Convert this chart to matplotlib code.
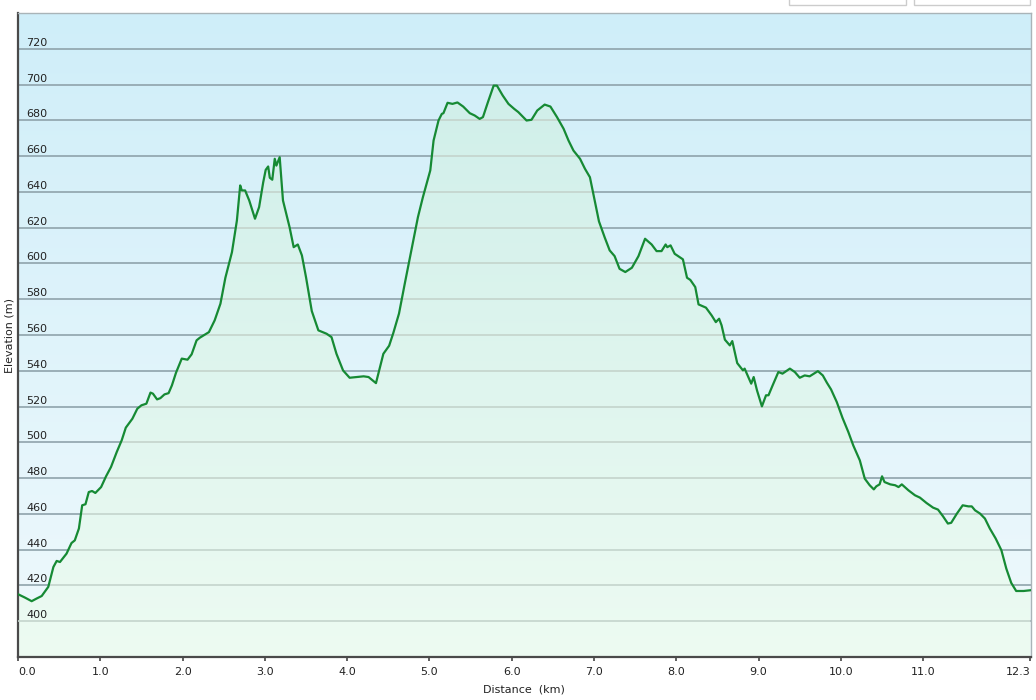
import numpy as np
import matplotlib
matplotlib.use("Agg")
import matplotlib.pyplot as plt
from matplotlib.colors import LinearSegmentedColormap
from matplotlib.patches import Rectangle

# ---- data ----
distance_km = [
    0.00, 0.085, 0.166, 0.227, 0.288, 0.368, 0.43, 0.47, 0.51, 0.59, 0.65, 0.69,
    0.74, 0.78, 0.82, 0.86, 0.90, 0.94, 1.01, 1.07, 1.13, 1.20, 1.26, 1.31, 1.39,
    1.45, 1.50, 1.56, 1.61, 1.64, 1.69, 1.73, 1.78, 1.83, 1.87, 1.92, 1.99, 2.06,
    2.11, 2.17, 2.21, 2.32, 2.39, 2.46, 2.52, 2.60, 2.66, 2.70, 2.72, 2.76, 2.81,
    2.88, 2.93, 2.98, 3.01, 3.04, 3.06, 3.09, 3.12, 3.14, 3.18, 3.22, 3.30, 3.35,
    3.40, 3.45, 3.50, 3.57, 3.65, 3.75, 3.81, 3.87, 3.95, 4.03, 4.12, 4.20, 4.26,
    4.35, 4.44, 4.51, 4.56, 4.63, 4.70, 4.78, 4.86, 4.92, 5.01, 5.05, 5.11, 5.15,
    5.17, 5.22, 5.28, 5.34, 5.41, 5.49, 5.55, 5.61, 5.65, 5.71, 5.78, 5.82, 5.89,
    5.96, 6.03, 6.08, 6.12, 6.18, 6.24, 6.31, 6.40, 6.47, 6.55, 6.63, 6.69, 6.75,
    6.83, 6.89, 6.95, 7.00, 7.06, 7.13, 7.19, 7.25, 7.31, 7.38, 7.46, 7.54, 7.62,
    7.70, 7.76, 7.82, 7.87, 7.89, 7.93, 7.98, 8.08, 8.13, 8.17, 8.23, 8.27, 8.36,
    8.43, 8.48, 8.52, 8.55, 8.59, 8.65, 8.68, 8.74, 8.81, 8.83, 8.89, 8.91, 8.94,
    8.98, 9.04, 9.09, 9.12, 9.17, 9.24, 9.29, 9.38, 9.44, 9.50, 9.56, 9.62, 9.72,
    9.78, 9.83, 9.88, 9.95, 10.02, 10.09, 10.15, 10.23, 10.29, 10.35, 10.40, 10.43,
    10.47, 10.50, 10.53, 10.60, 10.66, 10.70, 10.74, 10.82, 10.90, 10.96, 11.04,
    11.12, 11.18, 11.24, 11.30, 11.34, 11.41, 11.48, 11.55, 11.59, 11.63, 11.69,
    11.75, 11.81, 11.88, 11.95, 12.01, 12.07, 12.13, 12.22, 12.30,
]
elevation_m = [
    415.1, 413.2, 411.2, 412.7, 414.1, 419.2, 430.3, 433.7, 433.1, 437.8, 443.7, 445.2,
    451.8, 464.8, 465.4, 472.2, 472.8, 471.7, 475.0, 481.0, 486.2, 494.6, 501.1, 508.2, 513.2,
    518.8, 520.7, 521.6, 527.8, 527.2, 524.0, 524.7, 526.8, 527.5, 531.8, 538.9, 546.8, 546.2,
    549.2, 557.0, 558.5, 561.6, 568.2, 577.5, 592.0, 606.3, 624.0, 643.6, 640.8, 640.8, 635.2,
    625.0, 631.5, 645.4, 652.3, 654.2, 647.9, 646.8, 658.5, 654.7, 659.4, 635.2, 620.3, 609.1,
    610.6, 604.5, 592.3, 573.4, 562.6, 560.7, 558.8, 549.5, 540.2, 536.1, 536.5, 536.9, 536.5,
    533.1, 549.5, 554.0, 561.0, 572.0, 588.7, 607.3, 625.9, 637.0, 652.0, 668.7, 679.9, 683.6,
    684.0, 689.8, 689.2, 690.0, 687.7, 684.0, 682.7, 680.8, 681.8, 690.1, 699.4, 699.4, 693.9,
    689.2, 686.4, 684.6, 682.7, 679.9, 680.3, 685.5, 688.8, 687.7, 681.8, 675.3, 668.7, 663.1,
    658.5, 652.9, 648.2, 637.0, 623.5, 614.5, 607.3, 604.1, 597.0, 595.2, 597.6, 604.1, 613.8,
    610.6, 606.9, 606.9, 610.6, 609.1, 610.1, 605.4, 602.3, 592.0, 590.8, 586.8, 577.1, 575.3,
    570.9, 567.2, 569.1, 565.4, 557.4, 554.2, 556.6, 544.3, 540.2, 541.2, 535.0, 532.8, 536.5,
    529.1, 520.1, 526.3, 526.3, 531.8, 539.3, 538.4, 541.2, 539.3, 536.1, 537.4, 536.9, 539.8,
    537.4, 533.3, 529.6, 522.5, 513.6, 505.8, 498.3, 489.9, 479.7, 476.0, 473.7, 475.4,
    476.5, 481.0, 477.8, 476.5, 476.0, 475.0, 476.5, 473.2, 470.4, 469.1, 466.1,
    463.5, 462.4, 458.7, 454.6, 455.0, 460.2, 464.8, 464.2, 464.2, 462.0, 460.2,
    457.4, 451.8, 446.3, 439.7, 429.4, 421.4, 416.9, 416.9, 417.3,
]
y_ticks = [400, 420, 440, 460, 480, 500, 520, 540, 560, 580, 600, 620, 640, 660, 680, 700, 720]
x_ticks = [0, 1, 2, 3, 4, 5, 6, 7, 8, 9, 10, 11, 12.3]
x_tick_labels = ["0.0", "1.0", "2.0", "3.0", "4.0", "5.0", "6.0", "7.0", "8.0", "9.0",
                 "10.0", "11.0", "12.3"]

x = np.array(distance_km)
y = np.array(elevation_m)
XMAX, YMIN, YMAX = 12.31, 380, 740

W, H = 1036, 700
fig = plt.figure(figsize=(W / 100, H / 100), dpi=100)
fig.patch.set_facecolor("white")
ax = fig.add_axes([18 / W, 1 - 657 / H, (1031 - 18) / W, (657 - 13) / H])
ax.set_xlim(0, XMAX)
ax.set_ylim(YMIN, YMAX)

# background gradient
bg = LinearSegmentedColormap.from_list("bg", ["#eff9fc", "#cfeef9"])
grad = np.linspace(0, 1, 256).reshape(-1, 1)
ax.imshow(grad, cmap=bg, origin="lower", aspect="auto",
          extent=[0, XMAX, YMIN, YMAX], zorder=0, interpolation="bilinear")

# grid lines (above-fill color)
for v in y_ticks:
    ax.axhline(v, color="#8fa3ab", lw=1.2, zorder=1)

# fill under the profile with its own gradient
poly = ax.fill_between(x, y, YMIN, color="none", lw=0, zorder=2)
fg = LinearSegmentedColormap.from_list("fg", ["#edfbf2", "#d0efea"])
im = ax.imshow(grad, cmap=fg, origin="lower", aspect="auto",
               extent=[0, XMAX, YMIN, 700], zorder=2, interpolation="bilinear")
clip = poly.get_paths()[0]
im.set_clip_path(clip, transform=ax.transData)

# lighter grid lines under the fill
for v in y_ticks:
    gl = ax.axhline(v, color="#c4d4cc", lw=1.2, zorder=3)
    gl.set_clip_path(clip, transform=ax.transData)

ax.plot(x, y, color="#168a34", lw=1.6, zorder=5, solid_joinstyle="round")

# y labels inside plot
for v in y_ticks:
    ax.annotate(str(v), xy=(0, v), xycoords=("axes fraction", "data"),
                xytext=(8, 3), textcoords="offset pixels", ha="left", va="baseline",
                fontsize=8, color="#222222", zorder=6)
ax.set_yticks([])

ax.set_xticks(x_ticks)
ax.set_xticklabels(x_tick_labels, fontsize=8, color="#222222")
ax.tick_params(axis="x", direction="out", length=3, width=1.2, color="#444444", pad=4)
labels = ax.get_xticklabels()
labels[0].set_ha("left")
labels[-1].set_ha("right")

for side in ["top", "right"]:
    ax.spines[side].set_color("#a9b4b8")
    ax.spines[side].set_linewidth(1.0)
for side in ["left", "bottom"]:
    ax.spines[side].set_color("#4a4a4a")
    ax.spines[side].set_linewidth(1.6)

fig.text(9.5 / W, 1 - 335 / H, "Elevation (m)", rotation=90, ha="center", va="center",
         fontsize=8, color="#222222")
fig.text(524 / W, 1 - 690 / H, "Distance  (km)", ha="center", va="center",
         fontsize=8, color="#222222")

# partial UI boxes at the top edge
for x0, x1 in [(789, 906), (914, 1030)]:
    fig.patches.append(Rectangle((x0 / W, 1 - 5 / H), (x1 - x0) / W, 8 / H,
                                 transform=fig.transFigure, facecolor="white",
                                 edgecolor="#cccccc", lw=1.0))

fig.savefig("out.png", dpi=100)
